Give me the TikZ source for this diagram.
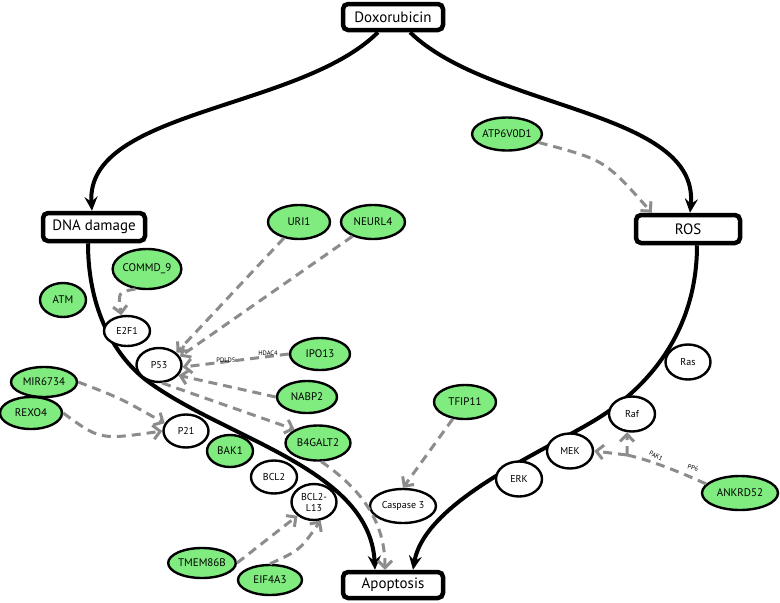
\documentclass[tikz,border=0pt]{standalone}
\usepackage{fontspec}
\setmainfont{PT Sans}
\usetikzlibrary{shapes.geometric,arrows.meta,calc}
\definecolor{gfill}{RGB}{128,236,128}
\definecolor{dgray}{RGB}{140,140,140}
\begin{document}
\begin{tikzpicture}[x=1pt,y=-1pt,
  box/.style={draw,rounded corners=5pt,line width=4.5pt,fill=white,minimum width=100pt,minimum height=26pt,inner sep=0pt,font=\fontsize{15}{17}\selectfont},
  gene/.style={ellipse,draw,line width=2.4pt,fill=gfill,inner sep=0pt,font=\fontsize{11}{13}\selectfont},
  prot/.style={ellipse,draw,line width=2.4pt,fill=white,inner sep=0pt,font=\fontsize{10}{11}\selectfont},
  mainarrow/.style={line width=4pt,-{Stealth[length=14pt,width=13pt,inset=5pt]}},
  dashline/.style={dgray,line width=3pt,dash pattern=on 9pt off 6pt},
  dasharrow/.style={dashline,-{Straight Barb[length=7pt,width=14pt]}},
  tinylbl/.style={font=\fontsize{6.5}{7}\selectfont,inner sep=0pt}
]
\useasboundingbox (0,0) rectangle (780,603);
% boxes
\node[box] (dox) at (393,17) {Doxorubicin};
\node[box,minimum width=102pt,minimum height=28pt] (dna) at (94,227) {DNA damage};
\node[box,minimum width=104pt,minimum height=28pt] (ros) at (688,229) {ROS};
\node[box] (apop) at (393,585) {Apoptosis};
% main curves
\draw[mainarrow] ($(dox.south)+(-15,0)$) .. controls (300,110) and (85,110) .. ($(dna.north)+(-2,0)$);
\draw[mainarrow] ($(dox.south)+(17,0)$) .. controls (490,110) and (700,110) .. ($(ros.north)+(2,0)$);
\draw[mainarrow] ($(dna.south)+(-6,0)$) .. controls (88,310) and (115,358) .. (150,383)
   .. controls (230,440) and (370,470) .. ($(apop.north)+(-18,0)$);
\draw[mainarrow] ($(ros.south)+(9,0)$) .. controls (697,330) and (650,385) .. (600,417)
   .. controls (550,449) and (425,500) .. ($(apop.north)+(20,0)$);
% ellipses
\node[gene,minimum width=64pt,minimum height=33pt] (atp) at (507,134) {ATP6V0D1};
\node[gene,minimum width=62pt,minimum height=34pt] (uri1) at (299,222) {URI1};
\node[gene,minimum width=64pt,minimum height=34pt] (neurl4) at (373,222) {NEURL4};
\node[gene,minimum width=60pt,minimum height=40pt] (commd) at (147,269) {COMMD\_9};
\node[gene,minimum width=46pt,minimum height=34pt] (atm) at (63,300) {ATM};
\node[prot,minimum width=46pt,minimum height=30pt] (e2f1) at (127,331) {E2F1};
\node[prot,minimum width=45pt,minimum height=34pt] (p53) at (159,365) {P53};
\node[gene,minimum width=60pt,minimum height=32pt] (ipo13) at (320,354) {IPO13};
\node[gene,minimum width=60pt,minimum height=32pt] (nabp2) at (307,397) {NABP2};
\node[gene,minimum width=66pt,minimum height=30pt] (mir) at (44,382) {MIR6734};
\node[gene,minimum width=62pt,minimum height=32pt] (rexo4) at (31,413) {REXO4};
\node[prot,minimum width=45pt,minimum height=33pt] (p21) at (186,431) {P21};
\node[gene,minimum width=46pt,minimum height=32pt] (bak1) at (230,451) {BAK1};
\node[gene,minimum width=65pt,minimum height=35pt] (b4galt2) at (318,443) {B4GALT2};
\node[prot,minimum width=46pt,minimum height=33pt] (bcl2) at (274,477) {BCL2};
\node[prot,minimum width=45pt,minimum height=36pt,align=center] (bcl2l13) at (314,502) {BCL2-\\L13};
\node[gene,minimum width=62pt,minimum height=30pt] (tmem) at (202,563) {TMEM86B};
\node[gene,minimum width=64pt,minimum height=30pt] (eif) at (270,580) {EIF4A3};
\node[prot,minimum width=66pt,minimum height=34pt] (casp) at (403,506) {Caspase 3};
\node[gene,minimum width=62pt,minimum height=34pt] (tfip) at (465,402) {TFIP11};
\node[prot,minimum width=45pt,minimum height=35pt] (ras) at (688,362) {Ras};
\node[prot,minimum width=46pt,minimum height=35pt] (raf) at (632,414) {Raf};
\node[prot,minimum width=46pt,minimum height=35pt] (mek) at (570,451) {MEK};
\node[prot,minimum width=46pt,minimum height=35pt] (erk) at (519,479) {ERK};
\node[gene,minimum width=76pt,minimum height=34pt] (ankrd) at (740,493) {ANKRD52};
% dashed connectors
\draw[dasharrow] (atp.-15) .. controls (605,160) .. ($(ros.north west)+(18,0)$);
\draw[dasharrow] (uri1) -- (p53.35);
\draw[dasharrow] (neurl4) -- (p53.22);
\draw[dasharrow] (ipo13.west) -- (p53.-5);
\node[tinylbl] (lpdld5) at (226,360) {PDLD5};
\node[tinylbl] (lhdac4) at (268,353) {HDAC4};
\draw[dasharrow] (nabp2.west) -- (p53.-28);
\draw[dasharrow] (p53.-80) -- (b4galt2.150);
\draw[dasharrow] (commd.-120) .. controls (118,292) .. (e2f1.110);
\draw[dasharrow] (mir.east) .. controls (120,398) .. (p21.160);
\draw[dasharrow] (rexo4.east) .. controls (100,440) .. (p21.west);
\draw[dasharrow] (b4galt2.-80) .. controls (370,495) and (385,530) .. ($(apop.north)+(-8,0)$);
\draw[dasharrow] (tmem.east) .. controls (265,540) .. (bcl2l13.-140);
\draw[dasharrow] (eif.north) .. controls (300,550) .. (bcl2l13.-70);
\draw[dasharrow] (tfip) -- (casp.north);
\coordinate (br) at (627,455);
\draw[dashline] (ankrd.165) .. controls (680,472) and (650,460) .. (br);
\draw[dasharrow] (br) -- (mek.east);
\draw[dasharrow] (br) -- (raf.-105);
\node[tinylbl,rotate=-28] (lpak1) at (656,456) {PAK1};
\node[tinylbl,rotate=-18] (lpp6) at (693,468) {PP6};
\end{tikzpicture}
\end{document}
